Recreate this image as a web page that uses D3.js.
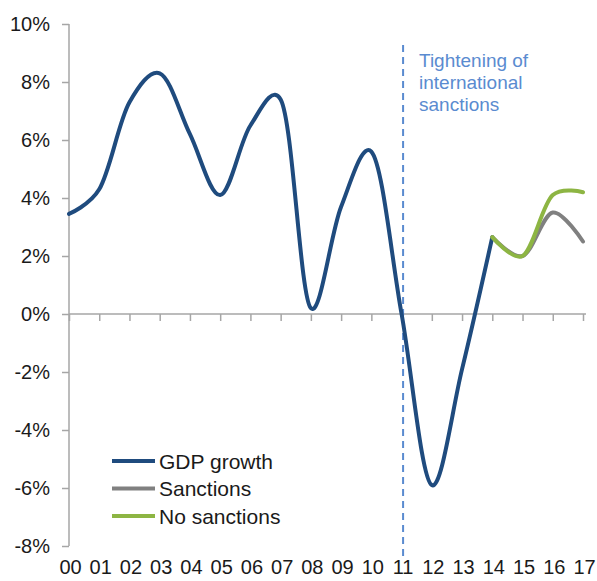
<!DOCTYPE html>
<html>
<head>
<meta charset="utf-8">
<script src="https://cdn.jsdelivr.net/npm/d3@7"></script>
<style>
	body { margin: 0; background: #fff; }
	svg { display: block; font-family: "Liberation Sans", Arial, sans-serif; }
</style>
</head>
<body>
<svg id="chart" width="597" height="581"></svg>
<script>
// Chart data
var years = ["00", "01", "02", "03", "04", "05", "06", "07", "08", "09", "10", "11", "12", "13", "14", "15", "16", "17"];
var gdpYears = years.slice(0, 15);
var gdpValues = [3.45, 4.3, 7.3, 8.3, 6.2, 4.1, 6.5, 7.4, 0.2, 3.7, 5.6, 0.0, -5.9, -1.9, 2.65];
var scenarioYears = ["14", "15", "16", "17"];
var sanctionsValues = [2.65, 2.0, 3.5, 2.5];
var noSanctionsValues = [2.65, 2.0, 4.1, 4.2];
var yTicks = [10, 8, 6, 4, 2, 0, -2, -4, -6, -8];
var markerYear = "11";
var noteLines = ["Tightening of", "international", "sanctions"];
var legendNames = ["GDP growth", "Sanctions", "No sanctions"];
var legendColors = ["#1f4b7e", "#808080", "#8db543"];

var svg = d3.select("#chart");
var plot = {left: 69, right: 583, top: 24, bottom: 546};

// Scales
var x = d3.scalePoint().domain(years).range([plot.left, plot.right]);
var y = d3.scaleLinear().domain([-8, 10]).range([plot.bottom, plot.top]);

// Y axis
var yAxis = svg.append("g")
	.attr("transform", "translate(" + plot.left + ",0)")
	.call(d3.axisLeft(y).tickValues(yTicks).tickSize(7).tickPadding(12).tickFormat(d => d + "%"));
yAxis.selectAll("path, line").attr("stroke", "#a6a6a6").attr("stroke-width", 1.5);
yAxis.select(".domain").attr("d", "M0," + plot.top + "V" + plot.bottom);
yAxis.selectAll("text").attr("font-size", 20).attr("fill", "#1a1a1a").attr("font-family", "Liberation Sans, Arial, sans-serif");

// X axis along zero line
var xAxis = svg.append("g")
	.attr("transform", "translate(0," + y(0) + ")")
	.call(d3.axisBottom(x).tickSize(7).tickFormat(""));
xAxis.selectAll("path, line").attr("stroke", "#a6a6a6").attr("stroke-width", 1.5);
xAxis.select(".domain").attr("d", "M" + plot.left + ",0H" + (plot.right + 3));

// Year labels at the bottom
svg.append("g").selectAll("text")
	.data(years)
	.enter()
	.append("text")
	.attr("x", d => x(d) + 1.5)
	.attr("y", 574)
	.attr("text-anchor", "middle")
	.attr("font-size", 20)
	.attr("fill", "#1a1a1a")
	.text(d => d);

// Dashed marker line
svg.append("line")
	.attr("x1", x(markerYear) + 1.5)
	.attr("x2", x(markerYear) + 1.5)
	.attr("y1", 45)
	.attr("y2", 556)
	.attr("stroke", "#5a8bd0")
	.attr("stroke-width", 2)
	.attr("stroke-dasharray", "7,5");

svg.append("g").selectAll("text")
	.data(noteLines)
	.enter()
	.append("text")
	.attr("x", 419)
	.attr("y", (d, i) => 67 + i * 22)
	.attr("font-size", 19)
	.attr("fill", "#5a8bd0")
	.text(d => d);

// Smoothed lines
var line = d3.line()
	.x(d => x(d[0]))
	.y(d => y(d[1]))
	.curve(d3.curveCatmullRom.alpha(0.2));

var series = [
	d3.zip(gdpYears, gdpValues),
	d3.zip(scenarioYears, sanctionsValues),
	d3.zip(scenarioYears, noSanctionsValues)
];

svg.append("g").selectAll("path")
	.data(series)
	.enter()
	.append("path")
	.attr("d", line)
	.attr("fill", "none")
	.attr("stroke", (d, i) => legendColors[i])
	.attr("stroke-width", 4)
	.attr("stroke-linecap", "round")
	.attr("stroke-linejoin", "round");

// Legend
var legend = svg.append("g");
legend.selectAll("line")
	.data(legendNames)
	.enter()
	.append("line")
	.attr("x1", 112)
	.attr("x2", 155)
	.attr("y1", (d, i) => 461 + i * 27.5)
	.attr("y2", (d, i) => 461 + i * 27.5)
	.attr("stroke", (d, i) => legendColors[i])
	.attr("stroke-width", 4);

legend.selectAll("text")
	.data(legendNames)
	.enter()
	.append("text")
	.attr("x", 159)
	.attr("y", (d, i) => 461 + i * 27.5)
	.attr("dy", "0.36em")
	.attr("font-size", 21)
	.attr("fill", "#1a1a1a")
	.text(d => d);
</script>
</body>
</html>
